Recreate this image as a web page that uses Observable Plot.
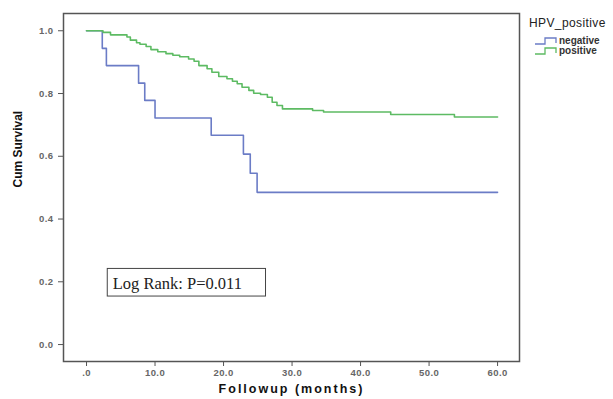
<!DOCTYPE html>
<html>
<head>
<meta charset="utf-8">
<script src="https://cdn.jsdelivr.net/npm/d3@7"></script>
<script src="https://cdn.jsdelivr.net/npm/@observablehq/plot@0.6"></script>
<style>
  html, body { margin: 0; padding: 0; background: #fff; }
  #wrap { position: relative; width: 613px; height: 399px; font-family: "Liberation Sans", Arial, sans-serif; }
  #legend { position: absolute; left: 529px; top: 16px; color: #222; white-space: nowrap; }
  #legend .title { font-size: 12px; height: 14px; line-height: 14px; letter-spacing: 0.4px; }
  #legend .item { font-size: 10px; height: 10px; line-height: 10px; display: flex; align-items: center; margin-left: 6px; font-weight: bold; color: #333; }
  #legend .item.first { margin-top: 6px; }
  #legend svg { margin-right: 2px; display: block; }
</style>
</head>
<body>
<div id="wrap"></div>
<script>
// Negative group (Kaplan–Meier step points)
const negTime = [0, 2.3, 2.9, 7.6, 8.5, 10.0, 18.2, 22.9, 23.9, 24.9, 60];
const negSurv = [1.0, 0.944, 0.889, 0.833, 0.778, 0.722, 0.667, 0.607, 0.546, 0.485, 0.485];

// Positive group
const posTime = [0, 2.4, 3.5, 5.9, 6.4, 7.3, 7.8, 8.7, 9.4, 10.4, 11.6, 12.6, 13.6, 14.9, 15.7, 16.4, 17.6, 18.3, 19.3, 20.5, 21.3, 22.0, 22.7, 23.7, 24.4, 25.4, 26.4, 27.1, 27.8, 28.6, 33.0, 34.6, 44.4, 53.7, 60];
const posSurv = [1.0, 0.995, 0.987, 0.980, 0.970, 0.962, 0.957, 0.950, 0.940, 0.933, 0.927, 0.922, 0.917, 0.910, 0.903, 0.889, 0.879, 0.868, 0.854, 0.847, 0.839, 0.831, 0.820, 0.810, 0.801, 0.797, 0.788, 0.772, 0.762, 0.751, 0.746, 0.741, 0.733, 0.725, 0.725];

const groups = ["negative", "positive"];
const groupColors = ["#6b7cc6", "#5dbb63"];

const xTicks = [0, 10, 20, 30, 40, 50, 60];
const yTicks = [0, 0.2, 0.4, 0.6, 0.8, 1.0];

// Annotation box (data units)
const annoLabel = ["Log Rank: P=0.011"];
const annoBox = [{x1: 3.1, x2: 26.2, y1: 0.153, y2: 0.241}];

const data = [
  ...negTime.map((t, i) => ({group: "negative", time: t, surv: negSurv[i]})),
  ...posTime.map((t, i) => ({group: "positive", time: t, surv: posSurv[i]}))
];

const plot = Plot.plot({
  width: 613,
  height: 399,
  marginLeft: 63,
  marginRight: 94,
  marginTop: 13,
  marginBottom: 38,
  style: {fontFamily: "'Liberation Sans', Arial, sans-serif", background: "#fff"},
  x: {domain: [-3.36, 63.2]},
  y: {domain: [-0.054, 1.055]},
  color: {domain: groups, range: groupColors},
  marks: [
    Plot.axisY({ticks: yTicks, tickFormat: d3.format(".1f"), tickSize: 5, tickPadding: 5, label: null, fontSize: 9.5, fontWeight: "bold", fill: "#666", stroke: "#555"}),
    Plot.axisX({ticks: xTicks, tickFormat: d => d === 0 ? ".0" : d3.format(".1f")(d), tickSize: 5, tickPadding: 3, label: null, fontSize: 9.5, fontWeight: "bold", fill: "#666", stroke: "#555"}),
    Plot.rect(annoBox, {x1: "x1", x2: "x2", y1: "y1", y2: "y2", fill: "none", stroke: "#444", strokeWidth: 1}),
    Plot.text(annoLabel, {x: annoBox[0].x1, y: (annoBox[0].y1 + annoBox[0].y2) / 2, dx: 5, dy: 1, text: d => d, textAnchor: "start", fontFamily: "'Liberation Serif', 'Times New Roman', serif", fontSize: 16.5, fill: "#222"}),
    Plot.line(data, {x: "time", y: "surv", z: "group", stroke: "group", curve: "step-after", strokeWidth: 1.6}),
    Plot.frame({stroke: "#555", strokeWidth: 1.5}),
    Plot.text(["Cum Survival"], {frameAnchor: "left", dx: -45, rotate: -90, text: d => d, fontWeight: "bold", fontSize: 12, fill: "#111"}),
    Plot.text(["Followup (months)"], {frameAnchor: "bottom", dy: 31, text: d => d, fontWeight: "bold", fontSize: 12.5, fill: "#111"})
  ]
});

// letter spacing for SPSS-like wide labels
d3.select(plot).selectAll("text").each(function() {
  const t = this.textContent;
  if (t === "Followup (months)") this.setAttribute("letter-spacing", "2");
  else if (/^\d*\.\d$/.test(t)) this.setAttribute("letter-spacing", "0.4");
});

const wrap = document.getElementById("wrap");
wrap.appendChild(plot);

// Legend
const legend = document.createElement("div");
legend.id = "legend";
const title = document.createElement("div");
title.className = "title";
title.textContent = "HPV_positive";
legend.appendChild(title);
groups.forEach((g, i) => {
  const item = document.createElement("div");
  item.className = "item" + (i === 0 ? " first" : "");
  item.innerHTML = `<svg width="22" height="8"><path d="M0,7 H10 V1 H21 V6" fill="none" stroke="${groupColors[i]}" stroke-width="1.3"/></svg><span>${g}</span>`;
  legend.appendChild(item);
});
wrap.appendChild(legend);
</script>
</body>
</html>
